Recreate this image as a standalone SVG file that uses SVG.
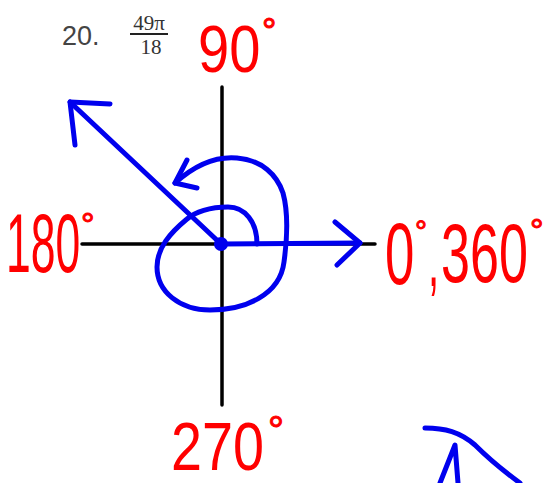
<svg xmlns="http://www.w3.org/2000/svg" width="548" height="483" viewBox="0 0 548 483">
<style>
.ax{stroke:#000;stroke-width:3.5;fill:none;stroke-linecap:round}
.b{stroke:#0000ee;stroke-width:5;fill:none;stroke-linecap:round;stroke-linejoin:round}
.r{fill:#ff0000;font-family:"Liberation Sans",sans-serif}
.d{fill:#ff0000;font-family:"Liberation Sans",sans-serif;stroke:#ff0000;stroke-width:1}
.q{font-family:"Liberation Sans",Arial,sans-serif;fill:#444}
.f{font-family:"Liberation Serif",serif;fill:#333}
</style>
<rect width="548" height="483" fill="#fff"/>
<g id="problem">
<text class="q" x="62" y="45" font-size="27">20.</text>
<text class="f" x="149" y="30" font-size="21" text-anchor="middle">49π</text>
<line x1="130" y1="34" x2="168" y2="34" stroke="#222" stroke-width="2"/>
<text class="f" x="151" y="54" font-size="21" text-anchor="middle">18</text>
</g>
<g id="axes">
<line class="ax" x1="222" y1="87" x2="222" y2="405"/>
<line class="ax" x1="82" y1="244" x2="375" y2="244"/>
</g>
<g id="labels">
<text class="r" transform="translate(198 72) scale(0.85 1)" font-size="66">90</text>
<text class="d" x="262" y="44" font-size="36">°</text>
<text class="r" transform="translate(6 272) scale(0.53 1)" font-size="84">180</text>
<text class="d" x="81" y="236" font-size="34">°</text>
<text class="r" transform="translate(385 284) scale(0.6 1)" font-size="88">0</text>
<text class="d" x="415" y="241" font-size="30">°</text>
<text class="r" transform="translate(428 286) scale(0.5 1)" font-size="80">,</text>
<text class="r" transform="translate(441 282) scale(0.62 1)" font-size="84">360</text>
<text class="d" x="530" y="242" font-size="34">°</text>
<text class="r" transform="translate(171 470) scale(0.82 1)" font-size="68">270</text>
<text class="d" x="268" y="444" font-size="40">°</text>
</g>
<g id="connectors">
<line class="b" x1="222" y1="244" x2="360" y2="243"/>
<path class="b" d="M335 222 L360 243 L337 265"/>
<line class="b" x1="221" y1="244" x2="70" y2="102"/>
<path class="b" d="M110 104 L70 102 L75 145"/>
<path class="b" d="M257 244 C257 222 245 207 228 207 C210 207 195 212 187 219 C170 233 157 248 157 267 C157 292 180 310 210 310 C245 310 280 295 284 262 C287 240 289 215 283 193 C277 175 262 160 237 158 C215 156 195 165 175 183"/>
<path class="b" d="M187 160 L175 183 L197 188"/>
<circle cx="221" cy="244" r="7" fill="#0000ee"/>
<path class="b" d="M425 428 C445 428 460 432 475 445 C490 460 505 472 520 483"/>
<path class="b" d="M440 483 L455 445 L458 483"/>
</g>
</svg>
